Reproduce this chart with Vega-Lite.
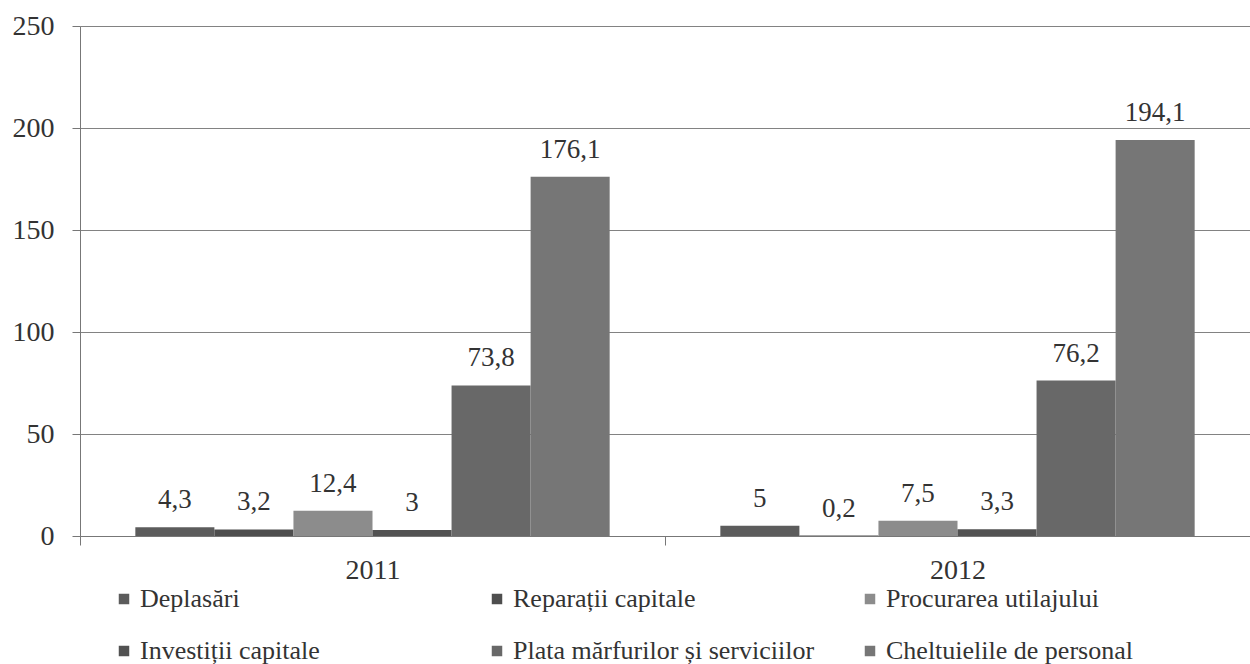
{
  "$schema": "https://vega.github.io/schema/vega-lite/v6.json",
  "autosize": {"type": "none"},
  "padding": {"left": 80, "top": 26, "right": 0, "bottom": 128},
  "width": 1170,
  "height": 510,
  "background": "white",
  "config": {
    "font": "Liberation Serif",
    "view": {"stroke": null}
  },
  "data": {
    "values": [
      {"year": "2011", "category": "Deplasări", "value": 4.3, "label": "4,3"},
      {"year": "2011", "category": "Reparații capitale", "value": 3.2, "label": "3,2"},
      {"year": "2011", "category": "Procurarea utilajului", "value": 12.4, "label": "12,4"},
      {"year": "2011", "category": "Investiții capitale", "value": 3, "label": "3"},
      {"year": "2011", "category": "Plata mărfurilor și serviciilor", "value": 73.8, "label": "73,8"},
      {"year": "2011", "category": "Cheltuielile de personal", "value": 176.1, "label": "176,1"},
      {"year": "2012", "category": "Deplasări", "value": 5, "label": "5"},
      {"year": "2012", "category": "Reparații capitale", "value": 0.2, "label": "0,2"},
      {"year": "2012", "category": "Procurarea utilajului", "value": 7.5, "label": "7,5"},
      {"year": "2012", "category": "Investiții capitale", "value": 3.3, "label": "3,3"},
      {"year": "2012", "category": "Plata mărfurilor și serviciilor", "value": 76.2, "label": "76,2"},
      {"year": "2012", "category": "Cheltuielile de personal", "value": 194.1, "label": "194,1"}
    ]
  },
  "encoding": {
    "x": {
      "field": "year", "type": "nominal",
      "scale": {"paddingInner": 0, "paddingOuter": 0},
      "axis": {"title": null, "labelAngle": 0, "labelFont": "Liberation Serif", "labelColor": "#333333", "labelFontSize": 28, "labelPadding": 11, "tickBand": "extent", "tickSize": 9, "domainColor": "#777777", "tickColor": "#777777"}
    },
    "xOffset": {
      "field": "category", "type": "nominal",
      "sort": ["Deplasări", "Reparații capitale", "Procurarea utilajului", "Investiții capitale", "Plata mărfurilor și serviciilor", "Cheltuielile de personal"],
      "scale": {"paddingInner": 0, "paddingOuter": 0.7}
    },
    "y": {
      "field": "value", "type": "quantitative",
      "scale": {"domain": [0, 250], "nice": false},
      "axis": {"title": null, "values": [0, 50, 100, 150, 200, 250], "labelFont": "Liberation Serif", "labelColor": "#333333", "labelFontSize": 28, "labelPadding": 18, "tickSize": 8, "grid": true, "gridColor": "#828282", "gridWidth": 1, "domainColor": "#777777", "tickColor": "#777777"}
    }
  },
  "layer": [
    {
      "mark": {"type": "bar"},
      "encoding": {
        "color": {
          "field": "category", "type": "nominal",
          "sort": ["Deplasări", "Reparații capitale", "Procurarea utilajului", "Investiții capitale", "Plata mărfurilor și serviciilor", "Cheltuielile de personal"],
          "scale": {
            "domain": ["Deplasări", "Reparații capitale", "Procurarea utilajului", "Investiții capitale", "Plata mărfurilor și serviciilor", "Cheltuielile de personal"],
            "range": ["#5c5c5c", "#4e4e4e", "#8c8c8c", "#525252", "#686868", "#767676"]
          },
          "legend": {
            "title": null,
            "orient": "none",
            "legendX": 31,
            "legendY": 560,
            "direction": "horizontal",
            "columns": 3,
            "gridAlign": "all",
            "columnPadding": 42,
            "rowPadding": 26,
            "padding": 0,
            "symbolType": "square",
            "symbolSize": 110,
            "symbolStrokeWidth": 0,
            "labelFont": "Liberation Serif",
            "labelFontSize": 26,
            "labelColor": "#333333",
            "labelOffset": 3,
            "labelLimit": 400
          }
        }
      }
    },
    {
      "mark": {"type": "text", "baseline": "alphabetic", "dy": -19, "fontSize": 27, "color": "#333333", "font": "Liberation Serif"},
      "encoding": {
        "text": {"field": "label", "type": "nominal"}
      }
    }
  ]
}
